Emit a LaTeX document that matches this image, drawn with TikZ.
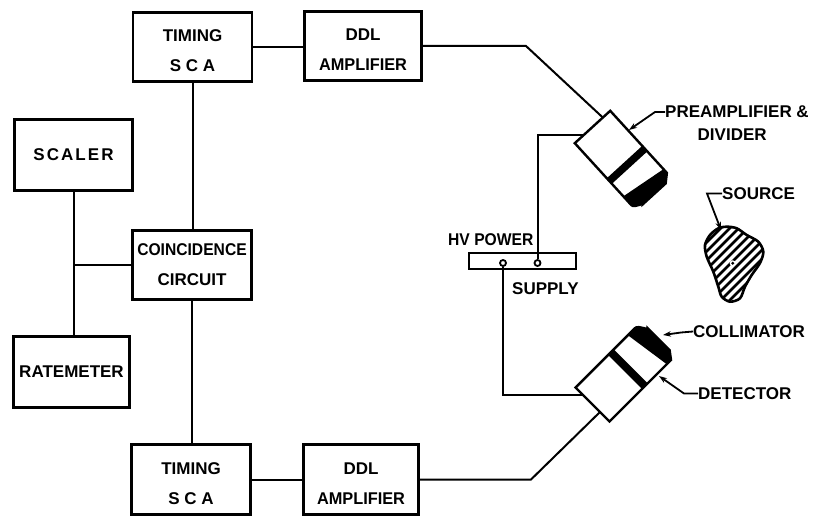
\documentclass[tikz,border=0pt]{standalone}
\usepackage{fontspec}
\usepackage{graphicx}
\setmainfont{Liberation Sans}
\usetikzlibrary{arrows.meta}
% invisible strut that pushes a two-line label down inside its box
\newcommand\topstrut[1]{\rule{0pt}{#1}}

\begin{document}
\begin{tikzpicture}[x=1pt,y=-1pt,
  font=\fontsize{17}{30}\selectfont\bfseries,
  unit/.style={draw,line width=2.6pt,inner sep=0pt,align=center},
  wire/.style={line width=2pt},
  tag/.style={anchor=west,inner sep=0pt},
  pointer/.style={line width=1.8pt,-{Stealth[length=8pt,width=5.5pt]}},
  tube/.style={line width=2.4pt,fill=white}]

\fill[white] (0,0) rectangle (813,518);
\useasboundingbox (0,0) rectangle (813,518);

% electronics chain
\node[unit,minimum width=119pt,minimum height=69.5pt] (tsca1) at (192.5,47) {\topstrut{18.2pt}TIMING\\S C A};
\node[unit,minimum width=117.5pt,minimum height=69.5pt] (ddl1) at (363,46) {\topstrut{18.2pt}DDL\\\scalebox{0.96}[1]{AMPLIFIER}};
\node[unit,minimum width=118.5pt,minimum height=71.5pt] (scaler) at (73.5,155) {\addfontfeature{LetterSpace=12}SCALER};
\node[unit,minimum width=119.5pt,minimum height=69.5pt] (coinc) at (192,265) {\scalebox{0.92}[1]{COINCIDENCE}\\CIRCUIT};
\node[unit,minimum width=116.5pt,minimum height=71.5pt] (rate) at (71.5,372) {RATEMETER};
\node[unit,minimum width=119.5pt,minimum height=70.5pt] (tsca2) at (191,479.5) {\topstrut{20.2pt}TIMING\\S C A};
\node[unit,minimum width=115.5pt,minimum height=70.5pt] (ddl2) at (361,479.5) {\topstrut{20.2pt}DDL\\\scalebox{0.96}[1]{AMPLIFIER}};

\draw[wire] (tsca1.east) -- (tsca1.east -| ddl1.west);
\draw[wire] (tsca1.south) -- (tsca1.south |- coinc.north);
\draw[wire] (coinc.south) -- (coinc.south |- tsca2.north);
\draw[wire] (tsca2.east) -- (tsca2.east -| ddl2.west);
\draw[wire] (scaler.south) -- (scaler.south |- rate.north);
\draw[wire] (coinc.west -| scaler.south) -- (coinc.west);

% HV power supply
\node[draw,line width=2pt,inner sep=0pt,minimum width=107pt,minimum height=16pt] (hv) at (522.5,261) {};
\node[draw,circle,fill=white,line width=1.8pt,inner sep=0pt,minimum size=6pt] (hvL) at (503,263) {};
\node[draw,circle,fill=white,line width=1.8pt,inner sep=0pt,minimum size=6pt] (hvR) at (537.5,263) {};
\node[tag] (hvtop) at (448,239.5) {\scalebox{0.92}[1]{HV POWER}};
\node[tag] (hvbot) at (512,288.5) {SUPPLY};

% preamplifier & divider tube
\begin{scope}[shift={(592.5,127)},rotate=-47.6]
  \draw[tube] (0,-24) -- (84,-24) -- (91,-16) -- (91,15) to[out=90,in=0] (84,24) -- (0,24) -- cycle;
  \fill (47.5,-24) rectangle (55,24);
  \fill (79,-24) -- (84,-24) -- (91,-16) -- (91,15) to[out=90,in=0] (84,24) -- (72,24) -- cycle;
  \coordinate (pa-hv) at (0,12);
  \coordinate (pa-sig) at (0,-14);
\end{scope}

% detector with collimator
\begin{scope}[shift={(592.5,404.5)},rotate=45]
  \draw[tube] (0,-24) -- (84,-24) to[out=0,in=-90] (93,-15) -- (93,16) -- (87,24) -- (0,24) -- cycle;
  \fill (46,-24) rectangle (54,24);
  \fill (74,-24) -- (84,-24) to[out=0,in=-90] (93,-15) -- (93,16) -- (87,24) -- (81,24) -- cycle;
  \coordinate (det-hv) at (0,-13.4);
  \coordinate (det-sig) at (0,10.6);
\end{scope}

% signal cables and HV leads
\coordinate (bendA) at (526,46);
\coordinate (bendB) at (531,479.5);
\draw[wire] (ddl1.east) -- (bendA) -- (pa-sig);
\draw[wire] (ddl2.east) -- (bendB) -- (det-sig);
\draw[wire] (hvR.north) |- (pa-hv);
\draw[wire] (hvL.south) |- (det-hv);

% source
\def\blob{plot[smooth cycle] coordinates {(726.7,226.7) (736.7,228.3) (746.7,235) (758.3,241.7) (763.3,251.7) (760,263) (751.7,275) (745,286.7) (740,298.3) (730,301.7) (721.7,296.7) (718.3,286.7) (713.3,271.7) (706.7,256.7) (705,245) (710,235) (718.3,228.3)}}
\begin{scope}
  \clip \blob;
  \foreach \c in {940,949,...,1060} \draw[line width=2.8pt] (\c-330,330) -- (\c-200,200);
\end{scope}
\draw[line width=2.6pt] \blob;
\fill[white] (732.7,263.3) circle (3pt);
\fill (732.7,263.3) circle (1.6pt);

% callouts
\node[tag] (lpre) at (665,112) {PREAMPLIFIER \&};
\node[tag] (ldiv) at (697.5,135) {DIVIDER};
\node[tag] (lsrc) at (722,193.5) {SOURCE};
\node[tag] (lcol) at (693,331.5) {COLLIMATOR};
\node[tag] (ldet) at (698,393.5) {DETECTOR};

\coordinate (tipPre) at (629,130);
\coordinate (tipSrc) at (721,230);
\coordinate (tipCol) at (663,335);
\coordinate (tipDet) at (659,376);
\draw[pointer] (lpre.west) -- ++(-10,0) -- (tipPre);
\draw[pointer] (lsrc.west) -- ++(-15,0) -- (tipSrc);
\draw[pointer] (lcol.west) -- ++(-12,1) -- (tipCol);
\draw[pointer] (ldet.west) -- ++(-14,0) -- (tipDet);

\end{tikzpicture}
\end{document}
